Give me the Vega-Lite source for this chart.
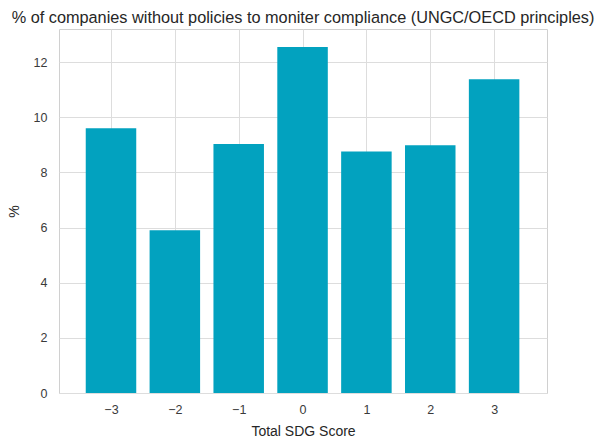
{
  "$schema": "https://vega.github.io/schema/vega-lite/v6.json",
  "width": 488,
  "height": 364,
  "autosize": "none",
  "padding": {"left": 59, "top": 29, "right": 51, "bottom": 48},
  "background": "white",
  "title": {
    "text": "% of companies without policies to moniter compliance (UNGC/OECD principles)",
    "font": "Liberation Sans",
    "fontSize": 16.3,
    "fontWeight": "normal",
    "color": "#262626",
    "anchor": "middle",
    "offset": 3
  },
  "config": {
    "view": {"stroke": "#d0d0d0", "strokeWidth": 1},
    "axis": {
      "labelFont": "Liberation Sans",
      "titleFont": "Liberation Sans",
      "labelFontSize": 12.5,
      "titleFontSize": 14,
      "titleFontWeight": "normal",
      "labelColor": "#3a3a3a",
      "titleColor": "#262626",
      "gridColor": "#dddddd",
      "gridWidth": 1,
      "domain": false,
      "ticks": false
    }
  },
  "data": {
    "values": [
      {"score": -3, "pct": 9.6},
      {"score": -2, "pct": 5.9},
      {"score": -1, "pct": 9.03},
      {"score": 0, "pct": 12.55},
      {"score": 1, "pct": 8.76},
      {"score": 2, "pct": 8.98},
      {"score": 3, "pct": 11.38}
    ]
  },
  "mark": {"type": "bar", "size": 50.5, "color": "#02a2bf"},
  "encoding": {
    "x": {
      "field": "score",
      "type": "quantitative",
      "scale": {"domain": [-3.736, 3.75], "nice": false, "zero": false},
      "axis": {"values": [-3, -2, -1, 0, 1, 2, 3], "title": "Total SDG Score", "labelPadding": 10, "titlePadding": 9}
    },
    "y": {
      "field": "pct",
      "type": "quantitative",
      "scale": {"domain": [0, 13.2], "nice": false},
      "axis": {"values": [0, 2, 4, 6, 8, 10, 12], "title": "%", "labelPadding": 12, "titlePadding": 12}
    }
  }
}
